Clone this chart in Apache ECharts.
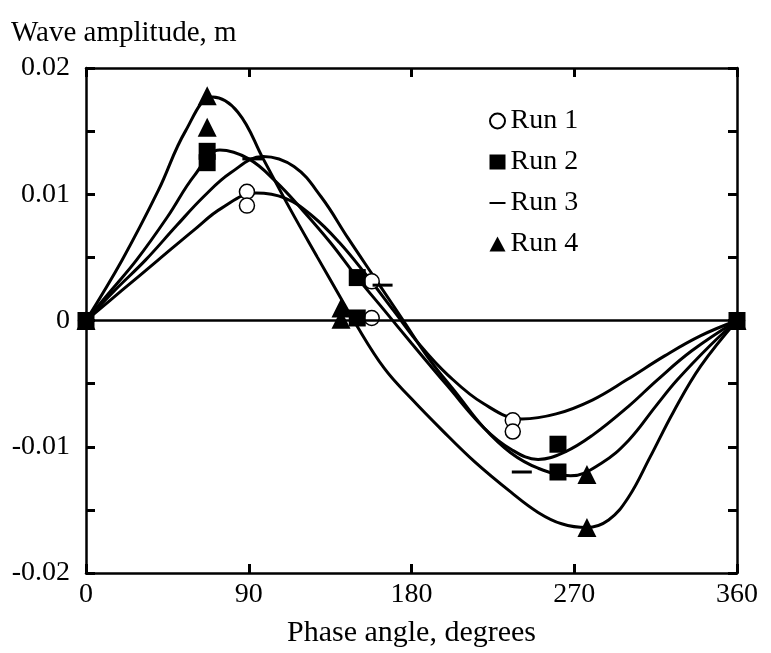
<!DOCTYPE html>
<html>
<head>
<meta charset="utf-8">
<script src="https://cdn.jsdelivr.net/npm/echarts@6.0.0/dist/echarts.min.js"></script>
<style>
  html, body { margin: 0; padding: 0; background: #fff; }
  #chart { width: 771px; height: 653px; }
</style>
</head>
<body>
<div id="chart"></div>
<script>
// x ticks (degrees)
const xTicks = [0, 90, 180, 270, 360];

// measured points [phase deg, amplitude m]
const run1Points = [[0, 0], [89, 0.0102], [89, 0.0091], [158, 0.0031], [158, 0.0002], [236, -0.0079], [236, -0.0088], [360, 0]];
const run2Points = [[0, 0], [67, 0.0134], [67, 0.0125], [150, 0.0034], [150, 0.0002], [261, -0.0098], [261, -0.0120], [360, 0]];
const run3Points = [[92, 0.0128], [164, 0.0028], [241, -0.0120]];
const run4Points = [[0, 0], [67, 0.0178], [67, 0.0153], [141, 0.0010], [141, 0.0001], [277, -0.0122], [277, -0.0164], [360, 0]];

// fitted curves
const run1Curve = [[0, 0], [20, 0.0024], [40, 0.0048], [60, 0.0072], [75, 0.0089], [94, 0.0101], [110, 0.0097], [125, 0.0083], [140, 0.0062], [155, 0.0036], [170, 0.0008], [185, -0.0020], [200, -0.0043], [220, -0.0066], [241, -0.0078], [260, -0.0074], [280, -0.0063], [299, -0.0047], [320, -0.0028], [340, -0.0012], [360, 0]];
const run2Curve = [[0, 0], [14, 0.0024], [28, 0.0048], [45, 0.0082], [60, 0.0115], [74, 0.0135], [90, 0.0128], [105, 0.0110], [120, 0.0087], [135, 0.0062], [150, 0.0034], [165, 0.0008], [180, -0.0018], [200, -0.0052], [220, -0.0085], [235, -0.0102], [250, -0.0110], [265, -0.0104], [280, -0.0091], [300, -0.0068], [316, -0.0047], [335, -0.0024], [360, 0]];
const run3Curve = [[0, 0], [16, 0.0024], [33, 0.0048], [50, 0.0075], [65, 0.0098], [80, 0.0117], [98, 0.0130], [115, 0.0122], [130, 0.0098], [145, 0.0065], [160, 0.0033], [175, 0.0001], [190, -0.0031], [205, -0.0058], [220, -0.0085], [235, -0.0105], [250, -0.0117], [268, -0.0123], [285, -0.0113], [300, -0.0095], [315, -0.0068], [327, -0.0047], [345, -0.0020], [360, 0]];
const run4Curve = [[0, 0], [20, 0.0048], [40, 0.0103], [55, 0.0150], [70, 0.0177], [84, 0.0165], [98, 0.0128], [113, 0.0088], [128, 0.0050], [140, 0.0020], [148, 0], [165, -0.0038], [180, -0.0062], [197, -0.0087], [215, -0.0112], [235, -0.0136], [250, -0.0152], [263, -0.0161], [277, -0.0164], [289, -0.0158], [300, -0.0140], [312, -0.0108], [325, -0.0072], [340, -0.0036], [360, 0]];

const FONT = 'Liberation Serif';
const black = '#000';

const chart = echarts.init(document.getElementById('chart'), null, { renderer: 'canvas' });

function curve(data) {
  return {
    type: 'line',
    data: data,
    smooth: 0.4,
    showSymbol: false,
    silent: true,
    lineStyle: { color: black, width: 3 },
    z: 3
  };
}

const axisLine = { show: true, onZero: false, lineStyle: { color: black, width: 2.5 } };
const tickIn = { show: true, inside: true, length: 9, lineStyle: { color: black, width: 3 } };

const option = {
  animation: false,
  backgroundColor: '#fff',
  title: {
    text: 'Wave amplitude, m',
    left: 6,
    top: 14,
    textStyle: { fontFamily: FONT, fontSize: 29, fontWeight: 'normal', color: black }
  },
  legend: {
    orient: 'vertical',
    left: 484,
    top: 102,
    itemWidth: 16,
    itemHeight: 15,
    itemGap: 13,
    textStyle: { fontFamily: FONT, fontSize: 28, color: black },
    data: [
      { name: 'Run 1', icon: 'circle' },
      { name: 'Run 2', icon: 'rect' },
      { name: 'Run 3', icon: 'path://M0,0M0,6h24v3h-24zM24,15' },
      { name: 'Run 4', icon: 'triangle' }
    ]
  },
  grid: { left: 86, right: 34, top: 68, bottom: 79 },
  xAxis: [
    {
      type: 'value', min: 0, max: 360, interval: 90, position: 'bottom',
      axisLine: axisLine, axisTick: tickIn, splitLine: { show: false },
      axisLabel: { fontFamily: FONT, fontSize: 28, color: black, margin: 8 },
      name: 'Phase angle, degrees', nameLocation: 'middle', nameGap: 45,
      nameTextStyle: { fontFamily: FONT, fontSize: 30, color: black }
    },
    {
      type: 'value', min: 0, max: 360, interval: 90, position: 'top',
      axisLine: axisLine, axisTick: tickIn, splitLine: { show: false },
      axisLabel: { show: false }
    }
  ],
  yAxis: [
    {
      type: 'value', min: -0.02, max: 0.02, interval: 0.005, position: 'left',
      axisLine: axisLine, axisTick: tickIn, splitLine: { show: false },
      axisLabel: {
        fontFamily: FONT, fontSize: 28, color: black, margin: 16,
        formatter: function (v) {
          const r = Math.round(v * 200);
          if (r % 2 !== 0) return '';
          if (r === 0) return '0';
          return String(Math.round(v * 100) / 100);
        }
      }
    },
    {
      type: 'value', min: -0.02, max: 0.02, interval: 0.005, position: 'right',
      axisLine: axisLine, axisTick: tickIn, splitLine: { show: false },
      axisLabel: { show: false }
    }
  ],
  series: [
    Object.assign(curve(run1Curve), {
      markLine: {
        silent: true, symbol: 'none', label: { show: false },
        lineStyle: { color: black, width: 2.5, type: 'solid' },
        data: [{ yAxis: 0 }]
      }
    }),
    curve(run2Curve),
    curve(run3Curve),
    curve(run4Curve),
    {
      name: 'Run 1', type: 'scatter', data: run1Points, symbol: 'circle', symbolSize: 15,
      itemStyle: { color: '#fff', borderColor: black, borderWidth: 1.5, opacity: 1 }, z: 4
    },
    {
      name: 'Run 2', type: 'scatter', data: run2Points, symbol: 'rect', symbolSize: 17,
      itemStyle: { color: black, opacity: 1 }, z: 4
    },
    {
      name: 'Run 3', type: 'scatter', data: run3Points, symbol: 'rect', symbolSize: [20, 3],
      itemStyle: { color: black, opacity: 1 }, z: 4
    },
    {
      name: 'Run 4', type: 'scatter', data: run4Points, symbol: 'triangle', symbolSize: 19,
      itemStyle: { color: black, opacity: 1 }, z: 4
    }
  ]
};

chart.setOption(option);
</script>
</body>
</html>
